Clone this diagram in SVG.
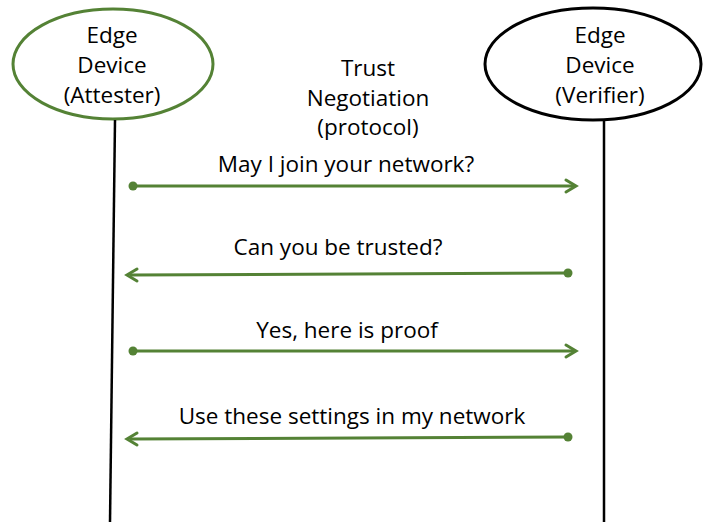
<svg xmlns="http://www.w3.org/2000/svg" width="703" height="522" viewBox="0 0 703 522">
<style>
  text { font-family: "Open Sans", "Liberation Sans", sans-serif; font-size: 22.5px; fill: #000; text-anchor: middle; }
  .life { stroke: #000; stroke-width: 2.5; fill: none; }
  .msg { stroke: #548235; stroke-width: 3; fill: none; }
  .head { stroke: #548235; stroke-width: 3; fill: none; stroke-linecap: round; stroke-linejoin: miter; }
  .dot { fill: #548235; }
</style>
<rect width="703" height="522" fill="#fff"/>
<g id="attester">
  <ellipse cx="113" cy="64" rx="100" ry="55" fill="none" stroke="#548235" stroke-width="3"/>
  <text x="112" y="43">Edge</text>
  <text x="112" y="73">Device</text>
  <text x="112" y="103">(Attester)</text>
</g>
<g id="verifier">
  <ellipse cx="593" cy="64" rx="108" ry="56" fill="none" stroke="#000" stroke-width="3"/>
  <text x="600" y="43">Edge</text>
  <text x="600" y="73">Device</text>
  <text x="600" y="103">(Verifier)</text>
</g>
<g id="title">
  <text x="368" y="76">Trust</text>
  <text x="368" y="106">Negotiation</text>
  <text x="368" y="135">(protocol)</text>
</g>
<g id="connectors">
  <line class="life" x1="115" y1="120" x2="110" y2="522"/>
  <line class="life" x1="604" y1="121" x2="604" y2="522"/>

  <line class="msg" x1="133" y1="186" x2="575" y2="186"/>
  <circle class="dot" cx="133" cy="186" r="4.5"/>
  <polyline class="head" points="566,180 576,186 566,192"/>

  <line class="msg" x1="568" y1="273" x2="130" y2="275"/>
  <circle class="dot" cx="568" cy="273" r="4.5"/>
  <polyline class="head" points="137,269 127,275 137,281"/>

  <line class="msg" x1="133" y1="351" x2="575" y2="351"/>
  <circle class="dot" cx="133" cy="351" r="4.5"/>
  <polyline class="head" points="566,345 576,351 566,357"/>

  <line class="msg" x1="568" y1="437" x2="130" y2="439"/>
  <circle class="dot" cx="568" cy="437" r="4.5"/>
  <polyline class="head" points="137,433 127,439 137,445"/>
</g>
<g id="labels">
  <text x="346" y="172">May I join your network?</text>
  <text x="338" y="255">Can you be trusted?</text>
  <text x="347" y="338">Yes, here is proof</text>
  <text x="352" y="424">Use these settings in my network</text>
</g>
</svg>
